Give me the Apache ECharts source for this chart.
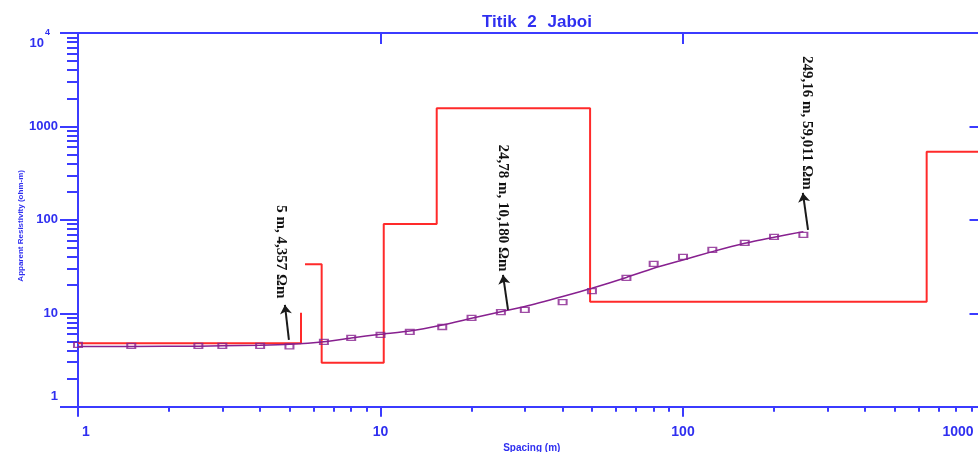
<!DOCTYPE html>
<html><head><meta charset="utf-8">
<script src="https://cdn.jsdelivr.net/npm/echarts@6/dist/echarts.min.js"></script>
<style>html,body{margin:0;padding:0;background:#fff}#c{width:978px;height:452px}</style>
</head><body><div id="c"></div>
<script>
// ---- data ----
const spacing = [1, 1.5, 2.5, 3, 4, 5, 6.5, 8, 10, 12.5, 16, 20, 25, 30, 40, 50, 65, 80, 100, 125, 160, 200, 250];
const observedRho = [4.58, 4.47, 4.47, 4.47, 4.47, 4.42, 4.93, 5.44, 5.86, 6.31, 7.13, 8.91, 10.3, 10.85, 13.2, 17.3, 23.9, 33.7, 40.1, 47.6, 56.6, 65.6, 68.9];
const calculatedRho = [4.41, 4.42, 4.45, 4.48, 4.55, 4.66, 4.97, 5.44, 5.96, 6.46, 7.5, 8.84, 10.4, 11.8, 15.1, 18.5, 24.2, 30.3, 37.2, 45.7, 56.2, 65.1, 74.8];
// layered model (red step line); null = gap visible in the reference
const modelDepth = [1, 5.46, 5.46, null, 5.63, 6.39, 6.39, 10.25, 10.25, 15.34, 15.34, 49.3, 49.3, 639, 639, 1000];
const modelRho = [4.77, 4.77, 10.15, null, 33.5, 33.5, 2.96, 2.96, 90.4, 90.4, 1567, 1567, 13.3, 13.3, 537, 537];
// annotations
const noteText = ['5 m, 4,357 Ωm', '24,78 m, 10,180 Ωm', '249,16 m, 59,011 Ωm'];
const noteTailX = [4.98, 26.4, 259];
const noteTailY = [5.18, 10.85, 78];
const noteHeadX = [4.83, 25.4, 249];
const noteHeadY = [12.3, 25.7, 194];
const noteTextX = [4.69, 25.4, 257];
const noteTextY = [45.3, 134, 1090];
// ticks
const xTickValues = [1, 10, 100, 1000];
const xTickLabels = ['1', '10', '100', '1000'];
const yTickValues = [1, 10, 100, 1000, 10000];
const yTickLabels = ['1', '10', '100', '1000', '10⁴'];
const minorMultipliers = [2, 3, 4, 5, 6, 7, 8, 9];
const xDecades = [1, 10, 100];
const yDecades = [1, 10, 100, 1000];

// ---- build ----
const AXIS = '#3b3bff';
const LABEL = '#2f2ff0';
const RED = '#ff2a2a';
const PURPLE = '#87208f';
const logMinor = decs => decs.flatMap(d => minorMultipliers.map(m => Math.log10(m * d)));

const modelData = modelDepth.map((x, i) => x === null ? ['-', '-'] : [x, modelRho[i]]);
const obsData = spacing.map((x, i) => [x, observedRho[i]]);
const calcData = spacing.map((x, i) => [x, calculatedRho[i]]);

const lbl = { fontFamily: 'Liberation Sans', fontWeight: 'bold', color: LABEL };

const chart = echarts.init(document.getElementById('c'), null, { renderer: 'canvas' });
chart.setOption({
  animation: false,
  backgroundColor: '#fff',
  textStyle: { fontFamily: 'Liberation Sans' },
  title: {
    text: '{w|Titik} {w|2} {w|Jaboi}',
    left: 474, top: 9,
    textStyle: { fontSize: 17, fontWeight: 'bold', color: LABEL,
      rich: { w: { fontSize: 17, fontWeight: 'bold', color: LABEL, fontFamily: 'Liberation Sans', padding: [0, 3, 0, 3] } } }
  },
  grid: { left: 78, top: 33, right: -7.5, bottom: 45.3, containLabel: false, outerBoundsMode: 'none' },
  xAxis: [
    { type: 'log', logBase: 10, min: 1, max: 1000, position: 'bottom',
      name: 'Spacing (m)', nameLocation: 'middle', nameGap: 37, nameMoveOverlap: false,
      nameTextStyle: { fontSize: 10, fontWeight: 'bold', color: LABEL },
      axisLine: { onZero: false, lineStyle: { color: AXIS, width: 2 } },
      axisTick: { length: 10, lineStyle: { color: AXIS, width: 2 } },
      splitLine: { show: false },
      axisLabel: { margin: 18, color: LABEL,
        formatter: v => {
          const i = xTickValues.indexOf(Math.round(v));
          if (i < 0) return '';
          const k = i === 0 ? 'f' : (i === xTickValues.length - 1 ? 'l' : 'n');
          return '{' + k + '|' + xTickLabels[i] + '}';
        },
        rich: {
          n: Object.assign({ fontSize: 14 }, lbl),
          f: Object.assign({ fontSize: 14, padding: [0, 0, 0, 16] }, lbl),
          l: Object.assign({ fontSize: 14, padding: [0, 55, 0, 0] }, lbl)
        } } },
    { type: 'log', logBase: 10, min: 1, max: 1000, position: 'top',
      axisLine: { onZero: false, lineStyle: { color: AXIS, width: 2 } },
      axisTick: { inside: true, length: 11, lineStyle: { color: AXIS, width: 2 } },
      splitLine: { show: false }, axisLabel: { show: false } },
    { type: 'value', min: 0, max: 3, position: 'bottom',
      axisLine: { show: false, onZero: false },
      axisTick: { show: true, length: 5, customValues: logMinor(xDecades), lineStyle: { color: AXIS, width: 2 } },
      splitLine: { show: false }, axisLabel: { show: false } }
  ],
  yAxis: [
    { type: 'log', logBase: 10, min: 1, max: 10000, position: 'left',
      name: 'Apparent Resistivity (ohm-m)', nameLocation: 'middle', nameGap: 53, nameRotate: 90, nameMoveOverlap: false,
      nameTextStyle: { fontSize: 8, fontWeight: 'bold', color: LABEL, padding: [0, 12, 0, 0] },
      axisLine: { onZero: false, lineStyle: { color: AXIS, width: 2 } },
      axisTick: { length: 18, lineStyle: { color: AXIS, width: 2 } },
      splitLine: { show: false },
      axisLabel: { margin: 20, color: LABEL,
        formatter: v => {
          const i = yTickValues.indexOf(Math.round(v));
          if (i < 0) return '';
          const t = yTickLabels[i];
          if (t.indexOf('⁴') >= 0) return '{tb|' + t.replace('⁴', '') + '}{ts|4}';
          return '{' + (i === 0 ? 'f' : 'n') + '|' + t + '}';
        },
        rich: {
          n: Object.assign({ fontSize: 13 }, lbl),
          f: Object.assign({ fontSize: 13, padding: [0, 0, 20, 0] }, lbl),
          tb: Object.assign({ fontSize: 13, padding: [20, 0, 0, 0] }, lbl),
          ts: Object.assign({ fontSize: 9, padding: [0, 8, 0, 1] }, lbl)
        } } },
    { type: 'log', logBase: 10, min: 1, max: 10000, position: 'right',
      axisLine: { onZero: false, lineStyle: { color: AXIS, width: 2 } },
      axisTick: { inside: true, length: 16, lineStyle: { color: AXIS, width: 2 } },
      splitLine: { show: false }, axisLabel: { show: false } },
    { type: 'value', min: 0, max: 4, position: 'left',
      axisLine: { show: false, onZero: false },
      axisTick: { show: true, length: 11, customValues: logMinor(yDecades), lineStyle: { color: AXIS, width: 2 } },
      splitLine: { show: false }, axisLabel: { show: false } }
  ],
  series: [
    { name: 'Model', type: 'line', xAxisIndex: 0, yAxisIndex: 0, data: modelData,
      showSymbol: false, connectNulls: false, lineStyle: { color: RED, width: 2 }, z: 2 },
    { name: 'Calculated', type: 'line', xAxisIndex: 0, yAxisIndex: 0, data: calcData,
      showSymbol: false, smooth: 0.2, lineStyle: { color: PURPLE, width: 1.5 }, z: 3 },
    { name: 'Observed', type: 'scatter', xAxisIndex: 0, yAxisIndex: 0, data: obsData,
      symbol: 'rect', symbolSize: [8, 5],
      itemStyle: { color: 'rgba(255,255,255,0)', borderColor: PURPLE, borderWidth: 1.6 }, z: 4,
      markLine: { silent: true, symbol: ['none', 'arrow'], symbolSize: 9, animation: false,
        lineStyle: { color: '#1a1a1a', width: 2, type: 'solid' }, label: { show: false },
        data: noteTailX.map((x, i) => [{ coord: [x, noteTailY[i]] }, { coord: [noteHeadX[i], noteHeadY[i]] }]) },
      markPoint: { silent: true, symbol: 'circle', symbolSize: 0, animation: false,
        label: { show: true, position: 'inside', rotate: -90, formatter: '{b}',
          fontFamily: 'Liberation Serif', fontSize: 15, fontWeight: 'bold', color: '#111' },
        data: noteText.map((t, i) => ({ name: t, coord: [noteTextX[i], noteTextY[i]] })) } }
  ]
});
</script>
</body></html>
